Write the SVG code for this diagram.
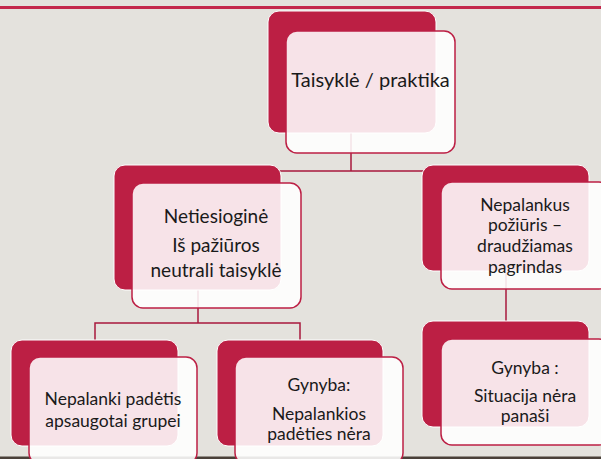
<svg xmlns="http://www.w3.org/2000/svg" width="601" height="459" viewBox="0 0 601 459">
<defs>
<style>
.back{fill:#bc1f44;stroke:#ffffff;stroke-width:1}
.front{fill:#ffffff;fill-opacity:0.88;stroke:#bc1f44;stroke-width:1.5}
.con{fill:none;stroke:#a8193d;stroke-width:1.5}
text{font-family:Lato,"Liberation Sans",sans-serif;fill:#1a1a1a;text-anchor:middle}
.t20{font-size:20px}
.t19{font-size:19px}
.t17{font-size:17.5px}
</style>
</defs>
<rect x="0" y="0" width="601" height="459" fill="#e4e2dd"/>
<rect x="0" y="6" width="601" height="3" fill="#c4284c"/>
<rect x="0" y="456.5" width="601" height="2.5" fill="#4a4039"/>
<g id="connectors">
<path class="con" d="M351 133V171M198 165V171H506V165"/>
<path class="con" d="M198 290V323M95 340V323H300V340"/>
<path class="con" d="M506 271V321"/>
</g>
<g id="node-top">
<rect class="back" x="268" y="11" width="168" height="122" rx="11"/>
<rect class="front" x="286" y="31" width="169" height="122" rx="11"/>
<text class="t20" x="370.5" y="87">Taisyklė / praktika</text>
</g>
<g id="node-netiesiogine">
<rect class="back" x="114" y="165" width="167" height="125" rx="11"/>
<rect class="front" x="132" y="183" width="169" height="125" rx="11"/>
<text class="t19" x="216" y="223">Netiesioginė</text>
<text class="t19" x="216" y="252">Iš pažiūros</text>
<text class="t19" x="216" y="277">neutrali taisyklė</text>
</g>
<g id="node-nepalankus">
<rect class="back" x="422" y="165" width="167" height="106" rx="11"/>
<rect class="front" x="441" y="182" width="169" height="107" rx="11"/>
<text class="t17" x="525" y="210.5">Nepalankus</text>
<text class="t17" x="525" y="231">požiūris –</text>
<text class="t17" x="525" y="252">draudžiamas</text>
<text class="t17" x="525" y="272.5">pagrindas</text>
</g>
<g id="node-nepalanki">
<rect class="back" x="11" y="340" width="167" height="106" rx="11"/>
<rect class="front" x="29" y="357" width="168" height="107" rx="11"/>
<text class="t17" x="113" y="405">Nepalanki padėtis</text>
<text class="t17" x="113" y="427">apsaugotai grupei</text>
</g>
<g id="node-gynyba1">
<rect class="back" x="217" y="340" width="166" height="106" rx="11"/>
<rect class="front" x="235" y="357" width="168" height="107" rx="11"/>
<text class="t17" x="319" y="391">Gynyba:</text>
<text class="t17" x="319" y="420">Nepalankios</text>
<text class="t17" x="319" y="440">padėties nėra</text>
</g>
<g id="node-gynyba2">
<rect class="back" x="422" y="321" width="167" height="106" rx="11"/>
<rect class="front" x="441" y="339" width="169" height="106" rx="11"/>
<text class="t17" x="525" y="374">Gynyba :</text>
<text class="t17" x="525" y="402">Situacija nėra</text>
<text class="t17" x="525" y="422">panaši</text>
</g>
</svg>
